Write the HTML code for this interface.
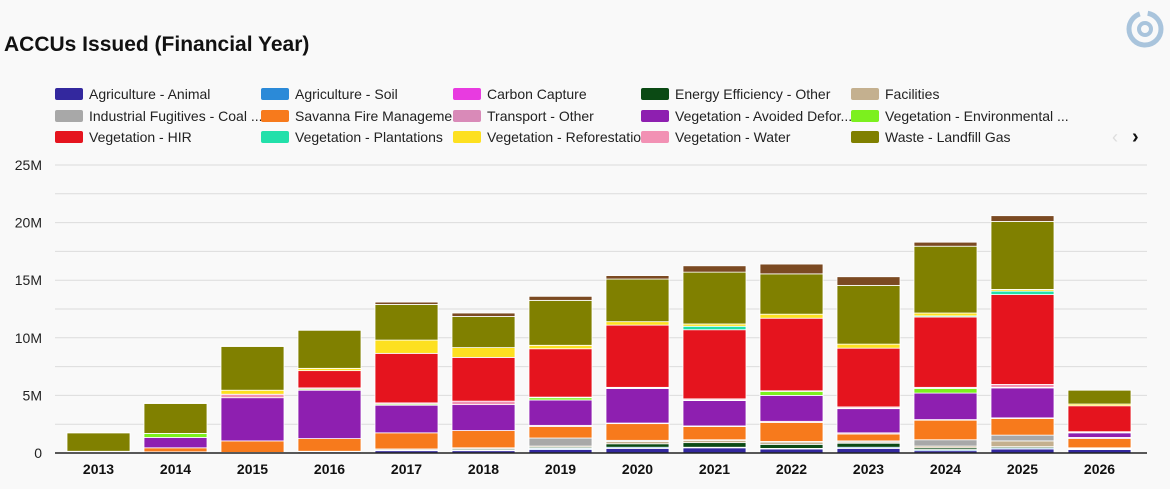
<!DOCTYPE html>
<html><head><meta charset="utf-8"><style>
body{margin:0;background:#f9f9f9;font-family:"Liberation Sans",sans-serif;}
#wrap{position:relative;width:1170px;height:489px;overflow:hidden;background:#f9f9f9}
h1{position:absolute;left:4px;top:33px;margin:0;font-size:21px;font-weight:bold;color:#111}
.leg{position:absolute;font-size:14px;color:#222;white-space:nowrap;height:18px;line-height:18px}
.sw{display:inline-block;width:28px;height:12px;border-radius:2px;vertical-align:-1px;margin-right:6px}
</style></head><body>
<div id="wrap">
<h1>ACCUs Issued (Financial Year)</h1>
<svg style="position:absolute;left:1124px;top:8px" width="42" height="42" viewBox="0 0 42 42"><circle cx="21" cy="21" r="16" fill="none" stroke="#a9c4dc" stroke-width="5" stroke-dasharray="70 8"/><circle cx="21" cy="21" r="6" fill="none" stroke="#a9c4dc" stroke-width="4"/></svg>
<div id="legend"></div>
<div style="position:absolute;left:1112px;top:127px;color:#ddd;font-size:18px">‹</div>
<div style="position:absolute;left:1132px;top:126px;color:#111;font-size:20px;font-weight:bold">›</div>
<svg id="chart" width="1170" height="489" style="position:absolute;left:0;top:0"></svg>
</div>
<script>
const years=["2013","2014","2015","2016","2017","2018","2019","2020","2021","2022","2023","2024","2025","2026"];
const seriesNames=["Agriculture - Animal","Agriculture - Soil","Carbon Capture","Energy Efficiency - Other","Facilities","Industrial Fugitives - Coal ...","Savanna Fire Management","Transport - Other","Vegetation - Avoided Defor...","Vegetation - Environmental ...","Vegetation - Water","Vegetation - HIR","Vegetation - Plantations","Vegetation - Reforestation","Waste - Landfill Gas","Waste - Other"];
const seriesColors=["#33289e","#2b8ad8","#e83be0","#0b4a14","#c4b08f","#a8a8a8","#f77a1c","#d98ab8","#8e1fb0","#7cf01e","#f291b4","#e5141e","#22e0aa","#fde020","#808000","#7b4a22"];
const animal=[0.05,0.1,0.05,0.1,0.2,0.2,0.3,0.4,0.45,0.35,0.4,0.2,0.35,0.3];
const soil=[0,0,0,0,0,0.05,0.1,0.1,0.05,0.05,0.1,0.1,0.1,0.05];
const carbon=[0,0,0,0,0,0,0,0,0,0,0,0,0,0];
const energy=[0,0,0,0,0.05,0.1,0.1,0.3,0.4,0.35,0.35,0.15,0.1,0];
const facilities=[0,0,0,0.05,0.1,0.1,0.1,0.2,0.2,0.2,0.1,0.15,0.5,0.05];
const fugitives=[0,0,0,0,0,0,0.7,0.1,0.05,0.05,0.1,0.55,0.5,0.05];
const savanna=[0.05,0.35,1.0,1.1,1.4,1.5,1.0,1.45,1.15,1.65,0.6,1.7,1.45,0.8];
const transport=[0,0,0,0,0,0,0.1,0.05,0.05,0.1,0.1,0.05,0.05,0.1];
const avoided=[0,0.9,3.75,4.2,2.4,2.25,2.2,3.0,2.2,2.25,2.1,2.3,2.6,0.4];
const vegEnv=[0,0.35,0,0.1,0.1,0,0.2,0.05,0.05,0.35,0.05,0.4,0.05,0.05];
const water=[0,0,0.3,0.1,0.1,0.3,0.05,0.05,0.1,0.05,0.1,0.1,0.25,0.05];
const hir=[0,0,0,1.5,4.3,3.8,4.2,5.4,6.0,6.3,5.1,6.1,7.8,2.25];
const plantations=[0,0,0,0,0,0,0,0,0.3,0,0,0.1,0.3,0];
const reforest=[0.05,0,0.35,0.2,1.15,0.85,0.3,0.3,0.2,0.35,0.35,0.25,0.15,0.15];
const landfill=[1.6,2.6,3.8,3.3,3.1,2.7,3.9,3.7,4.5,3.5,5.1,5.8,5.9,1.2];
const wasteOther=[0.03,0.05,0.05,0,0.2,0.3,0.35,0.3,0.55,0.85,0.75,0.35,0.5,0];
const yTicks=[0,5,10,15,20,25];
const yTickLabels=["0","5M","10M","15M","20M","25M"];
const series=[animal,soil,carbon,energy,facilities,fugitives,savanna,transport,avoided,vegEnv,water,hir,plantations,reforest,landfill,wasteOther];
const legendOrder=[[0,0],[1,1],[2,2],[3,3],[4,4],[5,5],[6,6],[7,7],[8,8],[9,9],[11,10],[12,11],[13,12],[10,13],[14,14]];
const legendLabels=["Agriculture - Animal","Agriculture - Soil","Carbon Capture","Energy Efficiency - Other","Facilities","Industrial Fugitives - Coal ...","Savanna Fire Managemen","Transport - Other","Vegetation - Avoided Defor...","Vegetation - Environmental ...","Vegetation - HIR","Vegetation - Plantations","Vegetation - Reforestation","Vegetation - Water","Waste - Landfill Gas"];
const NS="http://www.w3.org/2000/svg";
const svg=document.getElementById('chart');
const x0=60,x1=1138,yBase=453,yTop=165,maxV=25;
const band=(x1-x0)/years.length,barW=63;
const y=v=>yBase-(v/maxV)*(yBase-yTop);
const xc=i=>x0+band*(i+0.5);
function mk(t,a){const e=document.createElementNS(NS,t);for(const k in a)e.setAttribute(k,a[k]);svg.appendChild(e);return e;}
for(let v=2.5;v<=25;v+=2.5){const g=mk('line',{x1:55,x2:1147,y1:y(v),y2:y(v),stroke:'#dcdcdc','stroke-width':1});

}
yTicks.forEach((v,i)=>{const t=mk('text',{x:42,y:y(v)+5,'text-anchor':'end','font-size':14,fill:'#222','font-family':'Liberation Sans'});t.textContent=yTickLabels[i];

});
years.forEach((yr,i)=>{let acc=0;series.forEach((s,k)=>{const v=s[i];if(v<=0)return;const r=mk('rect',{x:xc(i)-barW/2,y:y(acc+v),width:barW,height:y(acc)-y(acc+v),fill:seriesColors[k],stroke:'#fff','stroke-width':0.8});

acc+=v;});
const t=mk('text',{x:xc(i),y:474,'text-anchor':'middle','font-size':14,'font-weight':'bold',fill:'#111','font-family':'Liberation Sans'});t.textContent=yr;

});
const ax=mk('line',{x1:55,x2:1147,y1:yBase,y2:yBase,stroke:'#222','stroke-width':1.5});


const lg=document.getElementById('legend');
const colX=[55,261,453,641,851],rowY=85;
legendLabels.forEach((lab,j)=>{const col=j%5,row=Math.floor(j/5);const d=document.createElement('div');d.className='leg';d.style.left=colX[col]+'px';d.style.top=(rowY+row*21.5)+'px';


const ci=legendOrder[j][0];d.innerHTML='<span class="sw" style="background:'+seriesColors[ci]+'"></span>'+lab;lg.appendChild(d);});
</script></body></html>
